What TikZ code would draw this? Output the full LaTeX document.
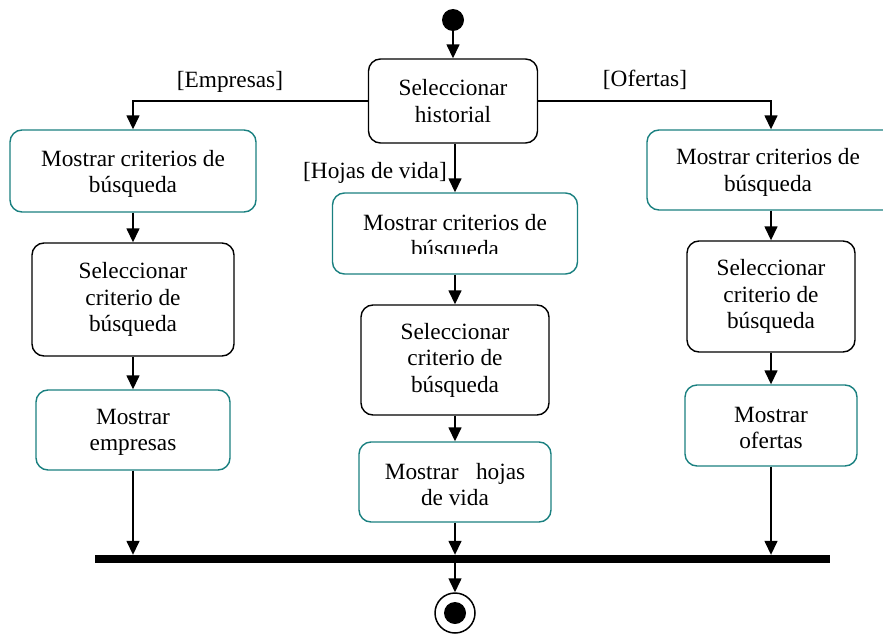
\documentclass[tikz,border=0pt]{standalone}
\usepackage{fontspec}
\setmainfont{Liberation Serif}
\usetikzlibrary{arrows.meta}
\definecolor{tealc}{RGB}{26,128,128}
\begin{document}
\begin{tikzpicture}[x=1pt,y=-1pt,
  box/.style={draw, rounded corners=12pt, line width=1.4pt, align=center, inner sep=0pt, font=\fontsize{23.3}{26.5}\selectfont},
  blackbox/.style={box, draw=black},
  tealbox/.style={box, draw=tealc},
  arr/.style={line width=1.5pt, -{Triangle[width=13pt,length=14pt]}},
  lbl/.style={font=\fontsize{23.3}{26.5}\selectfont, inner sep=0pt, align=center}]
\useasboundingbox (0,0) rectangle (883,634);

\node[fill, circle, minimum size=22pt, inner sep=0pt] (start) at (453,20) {};
\node[blackbox, minimum width=169pt, minimum height=84pt] (hist) at (453,101) {Seleccionar\\historial};

\node[tealbox, minimum width=246pt, minimum height=82pt] (L1) at (133,171) {};
\node[lbl] (L1t) at (133,174) {Mostrar criterios de\\búsqueda};
\node[blackbox, minimum width=202pt, minimum height=113pt] (L2) at (133,299.5) {Seleccionar\\criterio de\\búsqueda};
\node[tealbox, minimum width=194pt, minimum height=80pt] (L3) at (133,430) {};
\node[lbl] (L3t) at (133,432.5) {Mostrar\\empresas};

\node[tealbox, minimum width=245pt, minimum height=81pt] (C1) at (455,233.5) {};
\begin{scope}
  \clip (320,190) rectangle (590,253);
  \node[lbl] (C1t) at (455,238) {Mostrar criterios de\\búsqueda};
\end{scope}
\node[blackbox, minimum width=188pt, minimum height=110pt] (C2) at (455,360) {Seleccionar\\criterio de\\búsqueda};
\node[tealbox, minimum width=192pt, minimum height=80pt] (C3) at (455,482) {};
\node[lbl] (C3t) at (455,484.5) {Mostrar\ \ \ hojas\\de vida};

\node[tealbox, minimum width=248pt, minimum height=80pt] (R1) at (771,170) {};
\node[lbl] (R1t) at (768,172.5) {Mostrar criterios de\\búsqueda};
\node[blackbox, minimum width=168pt, minimum height=111pt] (R2) at (771,296.5) {Seleccionar\\criterio de\\búsqueda};
\node[tealbox, minimum width=172pt, minimum height=81pt] (R3) at (771,425.5) {};
\node[lbl] (R3t) at (771,428) {Mostrar\\ofertas};

\node[fill, minimum width=735pt, minimum height=8pt, inner sep=0pt] (bar) at (462.5,559) {};
\node[circle, draw, line width=1.5pt, minimum size=40pt, inner sep=0pt] (end) at (455,613) {};
\node[fill, circle, minimum size=22pt, inner sep=0pt] (endin) at (end) {};

\node[lbl] (le) at (230,82) {[Empresas]};
\node[lbl] (lo) at (645,80) {[Ofertas]};
\node[lbl, anchor=east] (lh) at (447,173) {[Hojas de vida]};

\draw[arr] (start) -- (hist);
\draw[arr] (hist.west) -| (L1.north);
\draw[arr] (hist.east) -| (R1.north);
\draw[arr] (hist.south -| C1.north) -- (C1.north);
\draw[arr] (L1) -- (L2);
\draw[arr] (L2) -- (L3);
\draw[arr] (L3) -- (L3 |- bar.north);
\draw[arr] (C1) -- (C2);
\draw[arr] (C2) -- (C3);
\draw[arr] (C3) -- (C3 |- bar.north);
\draw[arr] (R1) -- (R2);
\draw[arr] (R2) -- (R3);
\draw[arr] (R3) -- (R3 |- bar.north);
\draw[arr] (bar.south -| end) -- (end);
\end{tikzpicture}
\end{document}
